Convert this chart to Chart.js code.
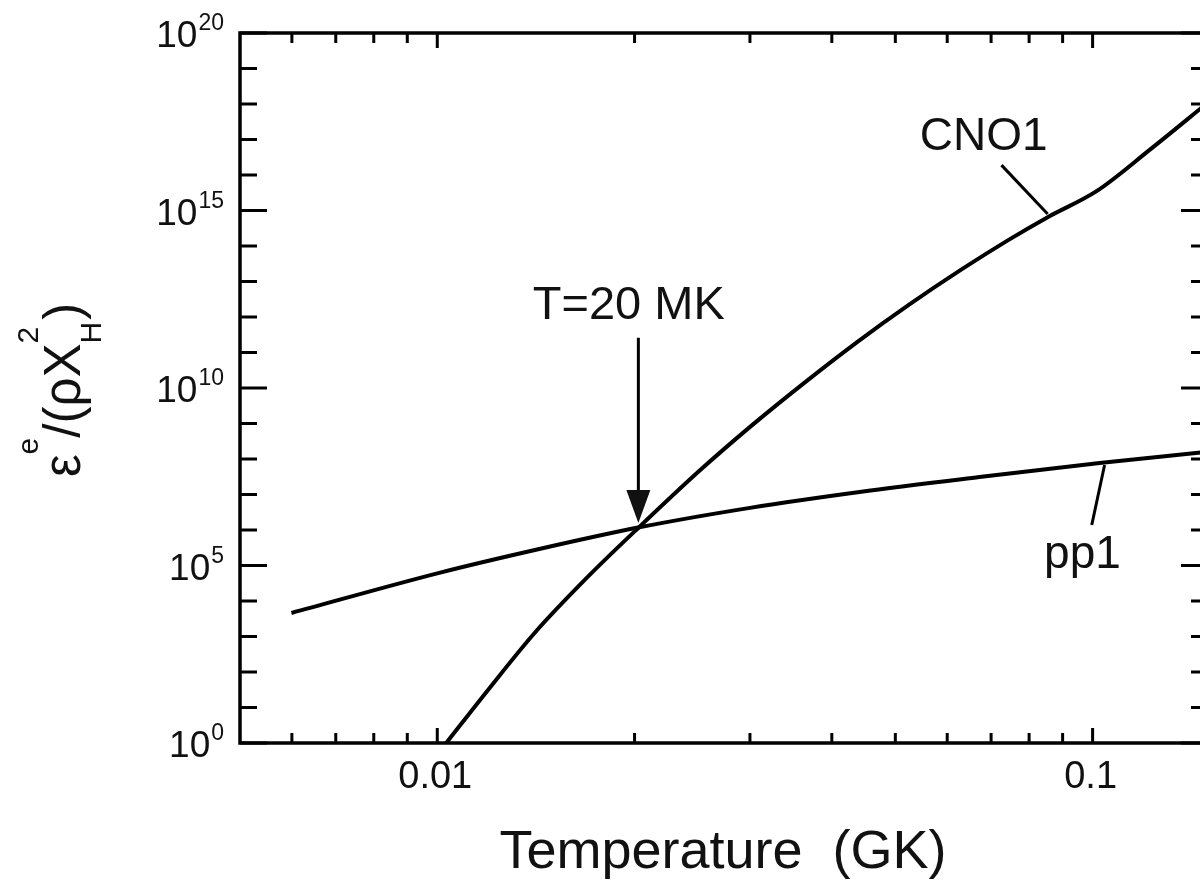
<!DOCTYPE html>
<html><head><meta charset="utf-8">
<script src="https://cdn.jsdelivr.net/npm/chart.js@4.4.0/dist/chart.umd.min.js"></script>
<style>
html,body{margin:0;padding:0;background:#fff;overflow:hidden;width:1200px;height:882px}
#wrap{position:absolute;left:0;top:0;width:1220px;height:882px}
</style></head><body>
<div id="wrap"><canvas id="c" width="1220" height="882"></canvas></div>
<script>
// ---- data ----
const temperatureCNO = [0.01032, 0.01202, 0.01413, 0.01698, 0.02034, 0.02512, 0.0302, 0.03631, 0.04377, 0.05248, 0.0631, 0.07413, 0.0854, 0.1014, 0.1222, 0.1500];
const cnoValues      = [1.0, 35.6, 1.36e3, 4.84e4, 1.22e6, 4.65e7, 8.85e8, 1.40e10, 2.0e11, 2.23e12, 2.19e13, 1.42e14, 6.5e14, 3.5e15, 5.1e16, 1.1e18];
const temperaturePP  = [0.00599, 0.01007, 0.01431, 0.02034, 0.0300, 0.0441, 0.0672, 0.1025, 0.1500];
const ppValues       = [4.6e3, 6.2e4, 2.91e5, 1.19e6, 4.2e6, 1.18e7, 3.1e7, 7.7e7, 1.6e8];

const xTickValues = [0.01, 0.1];
const xTickLabels = ['0.01', '0.1'];
const xMinorTicks = [0.006, 0.007, 0.008, 0.009, 0.02, 0.03, 0.04, 0.05, 0.06, 0.07, 0.08, 0.09];
const yMajorExponents = [0, 5, 10, 15, 20];
const yMinorExponents = [1,2,3,4,6,7,8,9,11,12,13,14,16,17,18,19];

const xRange = [0.005, 0.15];
const yRange = [1, 1e20];

const xTitle = 'Temperature  (GK)';
const seriesNames = ['CNO1', 'pp1'];
const arrowLabel = 'T=20 MK';

// annotation anchors in data coordinates
const arrowAnchor = { t: 0.02027, tail: 2.6e11, tip: 1.58e6, labelT: 0.0196, labelY: 8.7e11 };
const cnoLabel = { t: 0.0682, y: 5.0e16, lineFrom: [0.0726, 1.9e16], lineTo: [0.0854, 8.0e14] };
const ppLabel  = { t: 0.0965, y: 8.5e4,  lineFrom: [0.1043, 6.8e7], lineTo: [0.0997, 1.38e6] };

const FONT = '"Liberation Sans", Arial, Helvetica, sans-serif';
const INK = '#111';

const deco = {
  id: 'deco',
  afterDraw(chart) {
    const { ctx, chartArea: a, scales: { x, y } } = chart;
    const X = v => x.getPixelForValue(v);
    const Y = v => y.getPixelForValue(v);
    ctx.save();
    ctx.strokeStyle = '#000';
    ctx.fillStyle = INK;
    ctx.lineCap = 'butt';

    // frame
    ctx.lineWidth = 3.5;
    ctx.strokeRect(a.left, a.top, a.right - a.left, a.bottom - a.top);

    // y ticks (inward, both sides)
    ctx.lineWidth = 3;
    const yTick = (e, len) => {
      const py = Y(Math.pow(10, e));
      ctx.beginPath();
      ctx.moveTo(a.left, py); ctx.lineTo(a.left + len, py);
      ctx.moveTo(a.right, py); ctx.lineTo(a.right - len, py);
      ctx.stroke();
    };
    yMajorExponents.forEach(e => yTick(e, 27));
    yMinorExponents.forEach(e => yTick(e, 17));

    // x ticks (inward, top and bottom)
    const xTick = (v, len) => {
      const px = X(v);
      ctx.beginPath();
      ctx.moveTo(px, a.bottom); ctx.lineTo(px, a.bottom - len);
      ctx.moveTo(px, a.top); ctx.lineTo(px, a.top + len);
      ctx.stroke();
    };
    xTickValues.forEach(v => xTick(v, 15));
    xMinorTicks.forEach(v => xTick(v, 10));

    // y tick labels 10^n
    ctx.textBaseline = 'alphabetic';
    yMajorExponents.forEach(e => {
      const py = Y(Math.pow(10, e));
      const right = 224;
      ctx.font = `23px ${FONT}`;
      ctx.textAlign = 'right';
      const s = String(e);
      const sw = ctx.measureText(s).width;
      ctx.fillText(s, right, py - 3);
      ctx.font = `37px ${FONT}`;
      ctx.fillText('10', right - sw - 1, py + 14);
    });

    // x tick labels
    ctx.font = `38px ${FONT}`;
    ctx.textAlign = 'center';
    xTickValues.forEach((v, i) => ctx.fillText(xTickLabels[i], X(v) - 2, 788));

    // x title
    ctx.font = `54px ${FONT}`;
    ctx.textAlign = 'center';
    ctx.fillText(xTitle, (a.left + a.right) / 2 - 1, 868);

    // y title  ε^e/(ρX_H^2)
    ctx.save();
    ctx.translate(80, (a.top + a.bottom) / 2 + 2);
    ctx.rotate(-Math.PI / 2);
    ctx.textAlign = 'left';
    const main = `51px ${FONT}`, small = `30px ${FONT}`;
    const segs = [
      { t: 'ε', f: main, dy: 0 },
      { t: 'e', f: small, dy: -42 },
      { t: '/(ρX', f: main, dy: 0 },
      { stack: [{ t: 'H', f: small, dy: 21 }, { t: '2', f: small, dy: -42 }] },
      { t: ')', f: main, dy: 0 }
    ];
    const wOf = s => { ctx.font = s.f; return ctx.measureText(s.t).width; };
    let total = 0;
    segs.forEach(s => { total += s.stack ? Math.max(...s.stack.map(wOf)) + 2 : wOf(s); });
    let cx = -total / 2;
    segs.forEach(s => {
      if (s.stack) {
        let w = 0;
        s.stack.forEach(p => { ctx.font = p.f; ctx.fillText(p.t, cx, p.dy); w = Math.max(w, ctx.measureText(p.t).width); });
        cx += w + 2;
      } else {
        ctx.font = s.f; ctx.fillText(s.t, cx, s.dy); cx += ctx.measureText(s.t).width;
      }
    });
    ctx.restore();

    // annotations
    ctx.textAlign = 'center';
    ctx.font = `47px ${FONT}`;
    ctx.fillText(arrowLabel, X(arrowAnchor.labelT), Y(arrowAnchor.labelY));
    ctx.font = `46px ${FONT}`;
    ctx.fillText(seriesNames[0], X(cnoLabel.t), Y(cnoLabel.y));
    ctx.fillText(seriesNames[1], X(ppLabel.t), Y(ppLabel.y));

    ctx.lineWidth = 3;
    const ax = X(arrowAnchor.t), tail = Y(arrowAnchor.tail), tip = Y(arrowAnchor.tip);
    ctx.beginPath(); ctx.moveTo(ax, tail); ctx.lineTo(ax, tip - 30); ctx.stroke();
    ctx.beginPath(); ctx.moveTo(ax, tip); ctx.lineTo(ax - 12, tip - 33); ctx.lineTo(ax + 12, tip - 33); ctx.closePath(); ctx.fill();

    [cnoLabel, ppLabel].forEach(l => {
      ctx.beginPath();
      ctx.moveTo(X(l.lineFrom[0]), Y(l.lineFrom[1]));
      ctx.lineTo(X(l.lineTo[0]), Y(l.lineTo[1]));
      ctx.stroke();
    });
    ctx.restore();
  }
};

new Chart(document.getElementById('c'), {
  type: 'scatter',
  data: {
    datasets: [
      { label: seriesNames[0], data: temperatureCNO.map((t, i) => ({ x: t, y: cnoValues[i] })) },
      { label: seriesNames[1], data: temperaturePP.map((t, i) => ({ x: t, y: ppValues[i] })) }
    ]
  },
  options: {
    responsive: false,
    devicePixelRatio: 1,
    animation: false,
    showLine: true,
    layout: { padding: { left: 240, top: 33, right: 12, bottom: 139 } },
    elements: {
      line: { borderColor: '#000', borderWidth: 4, cubicInterpolationMode: 'monotone', fill: false },
      point: { radius: 0, hoverRadius: 0 }
    },
    plugins: { legend: { display: false }, tooltip: { enabled: false }, title: { display: false } },
    scales: {
      x: { type: 'logarithmic', min: xRange[0], max: xRange[1], display: false },
      y: { type: 'logarithmic', min: yRange[0], max: yRange[1], display: false }
    }
  },
  plugins: [deco]
});
</script>
</body></html>
